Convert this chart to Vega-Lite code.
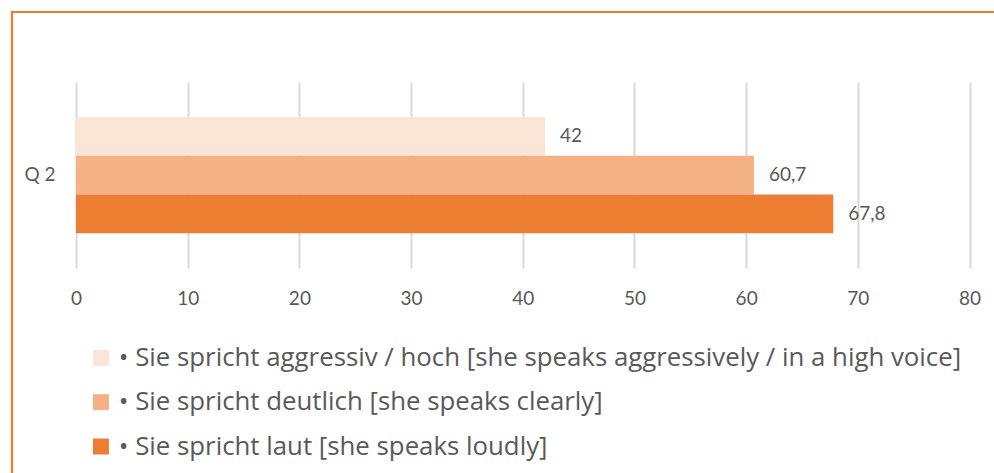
{
  "$schema": "https://vega.github.io/schema/vega-lite/v6.json",
  "width": 992,
  "height": 471,
  "autosize": {"type": "none"},
  "padding": {"left": 12, "top": 12, "right": -10, "bottom": -10},
  "background": "white",
  "view": {"stroke": "#ED7D31", "strokeWidth": 2.2},
  "data": {
    "values": [
      {"question": "Q 2", "series": "• Sie spricht aggressiv / hoch [she speaks aggressively / in a high voice]", "value": 42},
      {"question": "Q 2", "series": "• Sie spricht deutlich [she speaks clearly]", "value": 60.7},
      {"question": "Q 2", "series": "• Sie spricht laut [she speaks loudly]", "value": 67.8}
    ]
  },
  "encoding": {
    "y": {
      "field": "question",
      "type": "nominal",
      "scale": {"range": [70, 256], "paddingInner": 0, "paddingOuter": 0.3},
      "axis": {"title": null, "offset": -64, "domain": false, "ticks": false, "tickSize": 0, "labelPadding": 21, "labelFontSize": 19, "labelColor": "#595959", "labelFont": "Lato"}
    },
    "yOffset": {
      "field": "series",
      "type": "nominal",
      "sort": [
        "• Sie spricht aggressiv / hoch [she speaks aggressively / in a high voice]",
        "• Sie spricht deutlich [she speaks clearly]",
        "• Sie spricht laut [she speaks loudly]"
      ],
      "scale": {"paddingInner": 0, "paddingOuter": 0}
    },
    "x": {
      "field": "value",
      "type": "quantitative",
      "scale": {"domain": [0, 80], "range": [64, 957.5], "nice": false},
      "axis": {"title": null, "orient": "top", "values": [0, 10, 20, 30, 40, 50, 60, 70, 80], "offset": -292, "domain": false, "ticks": false, "tickSize": 0, "labelPadding": 0, "labelBaseline": "alphabetic", "labelFlush": false, "grid": true, "gridColor": "#D9D9D9", "gridWidth": 2, "labelFontSize": 19, "labelColor": "#595959", "labelFont": "Lato"}
    }
  },
  "layer": [
    {
      "mark": {"type": "bar"},
      "encoding": {
        "color": {
          "field": "series",
          "type": "nominal",
          "scale": {
            "domain": [
              "• Sie spricht aggressiv / hoch [she speaks aggressively / in a high voice]",
              "• Sie spricht deutlich [she speaks clearly]",
              "• Sie spricht laut [she speaks loudly]"
            ],
            "range": ["#FBE5D6", "#F4B183", "#ED7D31"]
          },
          "legend": {
            "orient": "none",
            "legendX": 76,
            "legendY": 333,
            "title": null,
            "symbolType": "square",
            "symbolSize": 256,
            "symbolStrokeWidth": 0,
            "labelFont": "Open Sans",
            "labelFontSize": 25.8,
            "labelColor": "#595959",
            "labelOffset": 5,
            "rowPadding": 17.3,
            "labelLimit": 0
          }
        }
      }
    },
    {
      "mark": {"type": "text", "align": "left", "dx": 15, "baseline": "middle", "font": "Lato", "fontSize": 19, "color": "#595959"},
      "encoding": {
        "text": {"field": "value", "type": "quantitative", "format": ".1~f"}
      }
    }
  ],
  "config": {
    "locale": {
      "number": {"decimal": ",", "thousands": ".", "grouping": [3], "currency": ["", " €"]}
    }
  }
}
